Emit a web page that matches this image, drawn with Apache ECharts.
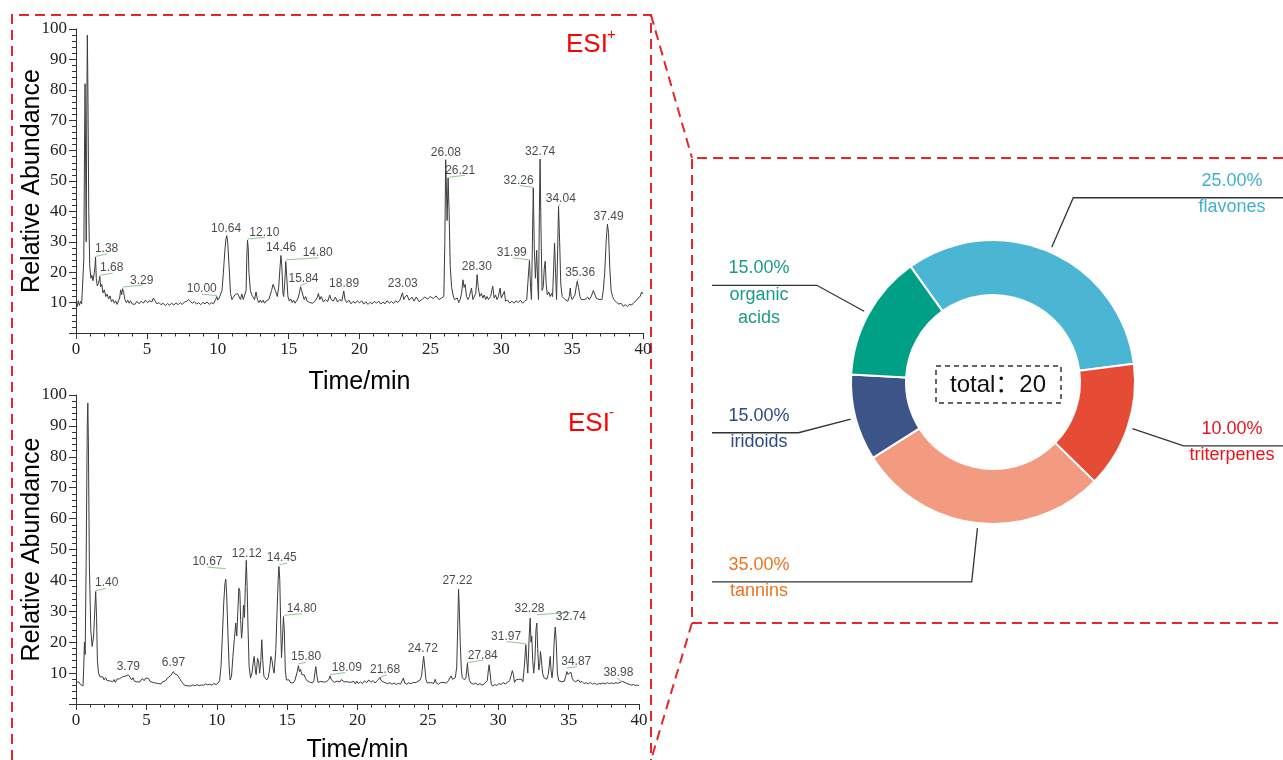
<!DOCTYPE html>
<html>
<head>
<meta charset="utf-8">
<script src="https://cdn.jsdelivr.net/npm/echarts@6/dist/echarts.min.js"></script>
<style>
  html, body { margin: 0; padding: 0; background: #fff; }
  #chart { width: 1283px; height: 760px; }
</style>
</head>
<body>
<div id="chart"></div>
<script>
// ESI+ total ion chromatogram, [time(min), relative abundance]
const esiPos = [
  [0,10],[0.08,8.6],[0.16,10.6],[0.24,9.1],[0.32,10.4],[0.4,9.6],[0.48,10.2],[0.55,24],[0.6,60],[0.64,82],
  [0.68,55],[0.72,30],[0.76,72],[0.8,98],[0.84,80],[0.9,40],[0.97,22],[1.05,18],[1.12,19],[1.2,17.2],
  [1.28,19.5],[1.34,22],[1.38,25],[1.43,18],[1.5,15.5],[1.58,16.2],[1.64,17.5],[1.68,18.6],[1.74,15.2],[1.82,16],
  [1.9,13.2],[2.0,14.2],[2.1,12],[2.2,12.8],[2.3,11.2],[2.4,12.2],[2.5,10.3],[2.6,11],[2.7,9.8],[2.8,10.6],
  [2.9,9.4],[3.0,10.6],[3.08,11.5],[3.15,14.2],[3.22,12.6],[3.29,14.6],[3.36,13.4],[3.45,11],[3.55,10],[3.65,10.8],
  [3.75,9.8],[3.85,10.6],[3.95,9.6],[4.05,10.2],[4.15,9.4],[4.3,10.4],[4.45,9.6],[4.6,10.5],[4.75,9.8],[4.9,10.8],
  [5.05,10],[5.2,10.6],[5.35,10.2],[5.46,11.5],[5.55,10.8],[5.7,9.6],[5.85,10],[6.0,9.3],[6.15,9.8],[6.3,9],
  [6.45,9.7],[6.6,9.1],[6.75,9.8],[6.9,9.2],[7.05,9.9],[7.2,9.3],[7.35,10],[7.5,9.4],[7.65,10.2],[7.8,10.4],
  [7.95,11],[8.05,10.6],[8.2,9.8],[8.35,10.3],[8.5,9.5],[8.65,10],[8.8,9.3],[8.95,10.1],[9.1,9.6],[9.25,10.2],
  [9.4,9.4],[9.55,10],[9.7,9.6],[9.85,11],[9.93,12],[10.0,10.8],[10.1,11.5],[10.2,12],[10.3,14],[10.4,20],
  [10.5,27],[10.58,31],[10.64,32],[10.7,30],[10.8,22],[10.9,13],[11.0,11],[11.1,11.5],[11.2,12.5],[11.3,12],
  [11.4,13],[11.5,12.5],[11.6,11],[11.7,12.8],[11.8,11],[11.9,11.5],[12.0,14],[12.05,25],[12.1,30.5],[12.15,28],
  [12.2,20],[12.3,14],[12.4,12.5],[12.5,12],[12.6,11],[12.7,13.5],[12.8,11],[12.9,10],[13.0,10.8],[13.1,10],
  [13.2,10.8],[13.3,9.8],[13.4,10.5],[13.5,10.2],[13.6,11],[13.7,11.5],[13.8,14],[13.9,16],[14.0,15.5],[14.1,13.5],
  [14.2,12],[14.3,15],[14.4,22],[14.46,25.5],[14.52,22],[14.6,13],[14.65,12],[14.72,16],[14.8,23.5],[14.86,19],
  [14.95,12],[15.05,10.5],[15.15,11.2],[15.25,10],[15.35,10.8],[15.45,9.8],[15.55,10.5],[15.65,11.2],[15.75,13],[15.84,15.2],
  [15.92,14],[16.0,12.5],[16.1,11],[16.2,12],[16.3,10.5],[16.4,11],[16.5,10],[16.6,10.5],[16.7,9.8],[16.85,10.5],
  [17.0,11.5],[17.1,13],[17.2,11],[17.3,12],[17.45,10.2],[17.6,11],[17.75,10.3],[17.9,12.5],[18.0,11],[18.15,10.5],
  [18.3,11.8],[18.45,10.2],[18.6,11],[18.75,10.5],[18.89,13.8],[18.98,11],[19.1,10],[19.25,10.8],[19.4,9.6],[19.55,10.4],
  [19.7,9.8],[19.85,10.6],[20.0,9.9],[20.15,10.6],[20.3,9.5],[20.45,10.3],[20.6,9.4],[20.75,10.1],[20.9,9.6],[21.05,10.4],
  [21.2,9.8],[21.35,10.5],[21.5,9.5],[21.65,10.2],[21.8,9.6],[21.95,10.6],[22.1,9.8],[22.25,10.4],[22.4,9.7],[22.55,10.6],
  [22.7,10],[22.85,10.8],[22.95,10.3],[23.03,13.2],[23.12,11],[23.2,11.8],[23.35,12.5],[23.5,10.8],[23.7,11.8],[23.85,10.5],
  [24.0,11.8],[24.2,10.3],[24.4,11],[24.6,11.8],[24.8,11.2],[25.0,12],[25.2,11.3],[25.4,12.2],[25.6,11],[25.8,11.5],
  [25.95,12],[26.02,30],[26.08,57],[26.13,48],[26.18,37],[26.25,51],[26.32,40],[26.4,22],[26.5,15],[26.6,12.5],
  [26.7,11],[26.8,10.5],[26.9,11.5],[27.0,10],[27.1,11],[27.2,13],[27.3,17.5],[27.38,15],[27.45,16],[27.55,12],
  [27.65,11],[27.75,12],[27.9,14.8],[28.0,11],[28.1,10.5],[28.2,13],[28.3,19.2],[28.38,15],[28.48,12],[28.6,13],
  [28.7,11.5],[28.8,12.5],[28.9,11],[29.0,12],[29.1,11],[29.25,12],[29.4,15.4],[29.5,11.5],[29.6,12.5],[29.7,11],
  [29.8,12],[29.92,14.8],[30.0,11.5],[30.1,12],[30.22,13.7],[30.3,10.5],[30.45,10.8],[30.6,9.8],[30.75,10.5],[30.9,9.8],
  [31.05,10.6],[31.2,10],[31.35,10.8],[31.5,9.8],[31.65,10.5],[31.8,11],[31.9,18],[31.99,23.9],[32.07,15],[32.13,11],
  [32.2,30],[32.26,47.7],[32.33,28],[32.41,18],[32.5,27.2],[32.57,16],[32.63,11],[32.69,40],[32.74,57.2],[32.8,35],
  [32.88,14],[32.96,15],[33.03,21],[33.1,23.6],[33.17,16],[33.25,12.5],[33.35,13.5],[33.45,12],[33.55,13],[33.62,12],
  [33.7,22],[33.76,29.6],[33.83,20],[33.9,11],[33.97,25],[34.04,41.7],[34.12,30],[34.2,16],[34.3,12],[34.4,12.5],
  [34.5,11],[34.6,11.5],[34.7,10.5],[34.8,12],[34.87,14.8],[34.93,12],[35.0,11],[35.1,11.5],[35.2,12.5],[35.3,15.5],
  [35.36,17],[35.45,15],[35.55,12],[35.65,11],[35.75,10.5],[35.9,11],[36.0,10.5],[36.1,11.8],[36.2,11],[36.35,12],
  [36.5,14],[36.6,13.5],[36.7,11.5],[36.8,12],[36.9,11],[37.0,11.5],[37.1,11],[37.2,14],[37.3,20],[37.4,30],
  [37.49,35.8],[37.57,33],[37.65,22],[37.75,14],[37.85,12],[37.95,11],[38.05,11.5],[38.15,10],[38.3,9.5],[38.45,9.8],
  [38.6,8.8],[38.75,9.3],[38.9,8.7],[39.05,9.5],[39.2,9.2],[39.35,10],[39.5,10.5],[39.65,11.5],[39.8,12],[39.9,13.5],[40,12.8]
];

// ESI- total ion chromatogram
const esiNeg = [
  [0,7],[0.1,6.5],[0.2,7.2],[0.3,6.4],[0.4,6.8],[0.5,5.8],[0.55,12],[0.6,20],[0.65,16],[0.72,45],
  [0.8,90],[0.84,97.4],[0.88,85],[0.95,45],[1.05,24],[1.15,18.6],[1.25,22],[1.33,30],[1.4,36.4],[1.46,28],
  [1.52,14],[1.6,10],[1.7,8.8],[1.8,8.3],[1.9,8.8],[2.0,7.8],[2.1,8.5],[2.2,7.6],[2.3,8.2],[2.4,7.5],
  [2.5,8],[2.6,7.2],[2.7,7.9],[2.8,7],[2.9,8],[3.0,7.4],[3.1,8.2],[3.2,7.6],[3.3,8.8],[3.4,8.2],
  [3.5,9],[3.6,8.4],[3.72,9.4],[3.85,8.6],[3.95,7.8],[4.05,8.5],[4.15,7.4],[4.25,7.9],[4.35,7.1],[4.45,7.7],
  [4.55,7.2],[4.7,8.2],[4.85,7.6],[4.95,8.4],[5.05,7.8],[5.15,8.3],[5.25,7.4],[5.35,7.9],[5.45,7],[5.55,7.6],
  [5.65,6.8],[5.75,7.3],[5.85,6.6],[5.95,7.1],[6.05,6.5],[6.15,7.2],[6.25,6.6],[6.35,7.5],[6.45,7.8],[6.55,8.6],
  [6.65,8],[6.75,9.3],[6.85,9.8],[6.92,10.5],[7.0,9.8],[7.1,10.1],[7.2,9.4],[7.3,8.8],[7.4,8],[7.5,7.2],
  [7.6,6.6],[7.7,6.1],[7.8,6.3],[7.9,5.9],[8.0,6.2],[8.15,5.8],[8.3,6.2],[8.45,5.9],[8.6,6.3],[8.75,5.9],
  [8.9,6.2],[9.05,6],[9.2,6.5],[9.35,6.2],[9.5,6.4],[9.65,6.1],[9.8,6.6],[9.95,6.3],[10.1,6.8],[10.2,7.5],
  [10.3,12],[10.4,22],[10.5,33],[10.58,39],[10.64,40.4],[10.7,36],[10.8,22],[10.88,12],[10.95,7.8],[11.05,9],
  [11.15,15.4],[11.25,21],[11.35,26.2],[11.42,22],[11.5,30],[11.57,37.5],[11.64,36.5],[11.7,27],[11.76,21.3],[11.82,24],
  [11.9,32],[11.97,28],[12.03,38],[12.1,46.5],[12.16,38],[12.22,25],[12.3,12.2],[12.4,8.5],[12.5,10],[12.58,13],
  [12.66,15.4],[12.74,11],[12.8,9.5],[12.9,14.8],[12.98,13.5],[13.05,10],[13.13,14],[13.2,20.8],[13.27,14],[13.35,9],
  [13.45,8.5],[13.55,7.8],[13.65,8.5],[13.75,11],[13.85,15.4],[13.93,14],[14.0,11.5],[14.08,10],[14.2,18],[14.3,32],
  [14.38,42],[14.42,44.5],[14.48,40],[14.55,24],[14.6,15],[14.66,20],[14.74,28.3],[14.8,24],[14.87,11],[14.95,7.8],
  [15.05,7.2],[15.15,7.8],[15.25,6.8],[15.35,7.4],[15.45,6.9],[15.55,7.6],[15.65,8.2],[15.72,10.5],[15.8,12.4],[15.88,10.5],
  [15.95,11.2],[16.05,9.5],[16.15,9.8],[16.22,9.4],[16.3,8.4],[16.4,7.6],[16.5,7.9],[16.6,7.1],[16.7,7.4],[16.8,6.8],
  [16.9,7.5],[16.97,10],[17.04,12.1],[17.12,9],[17.2,7],[17.3,6.8],[17.4,7.3],[17.5,6.7],[17.6,7.1],[17.7,6.6],
  [17.8,7.2],[17.9,6.8],[17.97,8],[18.05,9.1],[18.15,7.8],[18.25,7.2],[18.35,7],[18.45,6.8],[18.55,7.4],[18.65,6.9],
  [18.75,7.1],[18.85,7.9],[18.95,8.3],[19.05,7.2],[19.15,6.8],[19.25,7.2],[19.35,6.6],[19.5,7],[19.6,6.4],[19.75,7.3],
  [19.85,6.5],[19.95,7.4],[20.05,6.6],[20.2,7.2],[20.35,6.6],[20.5,7.5],[20.65,6.9],[20.8,7.8],[20.95,7],[21.1,7.6],
  [21.25,6.8],[21.4,7.5],[21.5,7],[21.6,8.6],[21.68,7.6],[21.8,8.2],[21.9,7],[22.0,7.6],[22.15,6.6],[22.3,6.9],
  [22.45,6.4],[22.6,6.8],[22.75,6.3],[22.9,6.7],[23.05,6.4],[23.15,7],[23.26,8.4],[23.35,6.8],[23.5,6.4],[23.65,6.9],
  [23.8,6.5],[23.95,7],[24.05,7.6],[24.15,6.9],[24.3,7.4],[24.45,7.8],[24.55,9],[24.64,13],[24.7,15.4],[24.78,12],
  [24.86,8],[24.95,6.8],[25.05,6.5],[25.2,6.9],[25.3,6.4],[25.42,6.7],[25.52,8],[25.6,6.8],[25.75,6.4],[25.9,6.9],
  [26.0,6.5],[26.15,7],[26.3,6.7],[26.45,7.5],[26.58,8],[26.65,9.1],[26.75,8],[26.85,7.5],[26.95,8.5],[27.05,12],
  [27.12,25],[27.18,37.2],[27.24,30],[27.3,19.7],[27.38,11],[27.45,8.5],[27.53,8.4],[27.6,7.8],[27.7,8.5],[27.76,11],
  [27.81,13.2],[27.87,10],[27.95,7.6],[28.05,6.8],[28.15,7.2],[28.25,6.4],[28.4,6.8],[28.55,6.2],[28.7,6.6],[28.85,6.1],
  [29.0,6.5],[29.12,6.2],[29.22,7.5],[29.3,11],[29.35,12.7],[29.42,10],[29.5,6.5],[29.6,5.8],[29.75,6.3],[29.9,6],
  [30.05,6.6],[30.2,6.3],[30.35,6.9],[30.5,6.5],[30.65,7],[30.8,7.5],[30.9,9],[31.0,10.8],[31.08,9.5],[31.15,7],
  [31.25,7.8],[31.35,7.2],[31.45,8],[31.55,7.5],[31.65,8],[31.75,7.2],[31.85,12],[31.96,19.2],[32.03,14],[32.1,10],
  [32.2,22],[32.27,27.8],[32.33,20],[32.38,22],[32.45,14],[32.52,10],[32.6,14],[32.68,24],[32.74,26.2],[32.8,18],
  [32.88,11],[32.95,13],[33.0,17],[33.07,14],[33.15,10],[33.25,8.5],[33.35,9],[33.45,8],[33.55,9.5],[33.62,12],
  [33.69,15.4],[33.75,11],[33.82,8.5],[33.9,12],[33.98,21],[34.05,24.9],[34.12,20],[34.2,10],[34.3,7.5],[34.4,7.8],
  [34.5,7.2],[34.6,7.6],[34.7,7.4],[34.8,9],[34.87,10.5],[34.95,9.6],[35.05,10.2],[35.16,10.3],[35.25,8.4],[35.35,7.6],
  [35.5,7.2],[35.6,7.5],[35.7,7.8],[35.8,7],[35.95,7.3],[36.1,6.6],[36.25,6.9],[36.4,6.5],[36.55,7],[36.7,6.4],
  [36.85,6.8],[37.0,6.3],[37.15,6.6],[37.3,6.5],[37.45,6.8],[37.6,6.5],[37.75,6.9],[37.9,6.6],[38.05,6.8],[38.2,6.6],
  [38.35,6.9],[38.5,6.7],[38.65,7],[38.8,7.3],[38.9,7.2],[39.0,7],[39.15,6.6],[39.3,6.4],[39.45,6.1],[39.6,6.3],
  [39.75,6],[39.9,6.1],[40,6]
];

// peak labels: [time, abundance, text]
const posPeaks = [
  [2.16,27.6,'1.38'],[2.52,21.4,'1.68'],[4.64,17.3,'3.29'],[8.87,14.5,'10.00'],[10.59,34.3,'10.64'],
  [13.29,33.1,'12.10'],[14.47,28.2,'14.46'],[17.05,26.5,'14.80'],[16.05,17.8,'15.84'],[18.91,16.2,'18.89'],
  [23.05,16.1,'23.03'],[26.09,59.4,'26.08'],[27.1,53.4,'26.21'],[28.28,21.9,'28.30'],[30.74,26.5,'31.99'],
  [31.22,50.1,'32.26'],[32.74,59.8,'32.74'],[34.2,44.2,'34.04'],[35.57,19.7,'35.36'],[37.57,38.4,'37.49']
];
const negPeaks = [
  [2.18,39.1,'1.40'],[3.72,12.1,'3.79'],[6.92,13.4,'6.97'],[9.34,45.9,'10.67'],[12.13,48.8,'12.12'],
  [14.62,47.2,'14.45'],[16.04,30.9,'14.80'],[16.35,15.4,'15.80'],[19.24,11.9,'18.09'],[21.96,11.1,'21.68'],
  [24.64,17.9,'24.72'],[27.1,39.9,'27.22'],[28.9,15.7,'27.84'],[30.56,21.9,'31.97'],[32.22,30.8,'32.28'],
  [35.16,28.3,'32.74'],[35.54,13.8,'34.87'],[38.54,10.2,'38.98']
];

// green leader segments: [t1, v1, t2, v2]
const posLeaders = [
  [1.39,25.2,2.21,26],[1.69,19,2.59,19.7],[3.29,15.1,4.71,15.8],[8.87,12.8,9.93,12.3],[12.09,30.9,13.34,31.5],
  [14.82,24.1,17.1,24.7],[15.81,15.6,16.28,16.4],[26.28,51.2,27.45,51.9],[30.82,24.7,32.0,24.1],[31.29,48.5,32.28,47.9],
  [34.04,41.7,34.16,42.5],[35.33,17,35.45,17.8]
];
const negLeaders = [
  [1.4,36.7,2.13,37.4],[9.34,44.3,10.64,43.8],[14.45,45.1,15.02,45.6],[14.79,28.7,16.04,29.2],[15.8,13,16.35,13.5],
  [18.05,9.5,19.12,10.2],[21.6,8.7,22.08,9.4],[27.81,13.4,28.95,14.2],[30.6,20.2,31.96,19.5],[32.74,28.9,35.1,29.6],
  [34.87,11.6,35.58,12.1],[38.41,8.4,38.77,7.3]
];

// compound classes (slice sizes as drawn, label text as printed)
const classNames = ['flavones', 'triterpenes', 'tannins', 'iridoids', 'organic\nacids'];
const classShares = [32.8, 14.4, 28.7, 9.8, 14.3];
const classLabels = ['25.00%', '10.00%', '35.00%', '15.00%', '15.00%'];
const classColors = ['#4BB6D4', '#E64B35', '#F29B80', '#3C5488', '#00A087'];
const classTextColors = ['#3FB0D0', '#E8141C', '#EC7420', '#2C4A87', '#1B9A88'];

const chart = echarts.init(document.getElementById('chart'))

const red = '#E8262A'
const dash = [10, 6]

function xAxisOf(gridIndex, gap) {
  return {
    type: 'value', gridIndex: gridIndex, min: 0, max: 40, interval: 5,
    name: 'Time/min', nameLocation: 'middle', nameGap: gap, nameMoveOverlap: false,
    nameTextStyle: { fontSize: 25, fontFamily: 'Liberation Sans', color: '#000' },
    axisLine: { show: true, onZero: false, lineStyle: { color: '#333', width: 1 } },
    axisTick: { show: true, length: 6, lineStyle: { color: '#333' } },
    minorTick: { show: true, splitNumber: 5, length: 3.5, lineStyle: { color: '#333' } },
    axisLabel: { fontFamily: 'Liberation Serif', fontSize: 17, color: '#222', margin: 8 },
    splitLine: { show: false }
  }
}

function yAxisOf(gridIndex) {
  return {
    type: 'value', gridIndex: gridIndex, min: 0, max: 100, interval: 10,
    name: 'Relative Abundance', nameLocation: 'middle', nameGap: 31, nameMoveOverlap: false,
    nameTextStyle: { fontSize: 25, fontFamily: 'Liberation Sans', color: '#000' },
    axisLine: { show: true, onZero: false, lineStyle: { color: '#333', width: 1 } },
    axisTick: { show: true, length: 7, lineStyle: { color: '#333' } },
    minorTick: { show: true, splitNumber: 5, length: 4, lineStyle: { color: '#333' } },
    axisLabel: {
      fontFamily: 'Liberation Serif', fontSize: 17, color: '#222', margin: 9,
      formatter: function (v) { return v === 0 ? '' : v }
    },
    splitLine: { show: false }
  }
}

function traceSeries(data, idx) {
  return {
    type: 'line', xAxisIndex: idx, yAxisIndex: idx, data: data,
    symbol: 'none', smooth: false,
    lineStyle: { color: '#3c3c3c', width: 1 }
  }
}

function peakSeries(peaks, idx) {
  return {
    type: 'scatter', xAxisIndex: idx, yAxisIndex: idx,
    data: peaks, symbolSize: 1, itemStyle: { color: 'transparent' },
    label: {
      show: true, position: 'inside', fontSize: 12, fontFamily: 'Liberation Sans', color: '#1a1a1a',
      formatter: function (p) { return p.value[2] }
    },
    z: 5
  }
}

function leaderSeries(segs, idx) {
  return {
    type: 'lines', coordinateSystem: 'cartesian2d', xAxisIndex: idx, yAxisIndex: idx,
    data: segs.map(function (s) { return { coords: [[s[0], s[1]], [s[2], s[3]]] } }),
    lineStyle: { color: '#8CCB8C', width: 1, opacity: 1 },
    z: 4
  }
}

const option = {
  backgroundColor: '#fff',
  animation: false,
  grid: [
    { left: 76, top: 29, width: 567, height: 304, outerBoundsMode: 'none', containLabel: false },
    { left: 76, top: 395, width: 563, height: 309, outerBoundsMode: 'none', containLabel: false }
  ],
  xAxis: [xAxisOf(0, 37), xAxisOf(1, 34)],
  yAxis: [yAxisOf(0), yAxisOf(1)],
  series: [
    traceSeries(esiPos, 0),
    traceSeries(esiNeg, 1),
    leaderSeries(posLeaders, 0),
    leaderSeries(negLeaders, 1),
    peakSeries(posPeaks, 0),
    peakSeries(negPeaks, 1),
    {
      type: 'pie',
      center: [993, 382],
      radius: [87, 142],
      startAngle: 125.5,
      avoidLabelOverlap: false,
      itemStyle: { borderColor: '#fff', borderWidth: 2 },
      label: {
        show: true, position: 'outside', fontFamily: 'Liberation Sans',
        formatter: function (p) {
          return '{p|' + classLabels[p.dataIndex] + '}\n{n|' + classNames[p.dataIndex] + '}'
        },
        rich: {
          p: { fontSize: 18, lineHeight: 30, fontFamily: 'Liberation Sans', align: 'center' },
          n: { fontSize: 18, lineHeight: 23, fontFamily: 'Liberation Sans', align: 'center' }
        }
      },
      labelLine: { show: true, length: 59, length2: 10, lineStyle: { color: '#333', width: 1.3 } },
      labelLayout: function (params) {
        const pts = params.labelLinePoints
        if (!pts) return {}
        const isLeft = pts[2][0] < pts[1][0]
        const dx = pts[1][0] - pts[0][0]
        const dy = pts[1][1] - pts[0][1]
        const len = Math.sqrt(dx * dx + dy * dy)
        const start = [pts[0][0] + dx / len * 5, pts[0][1] + dy / len * 5]
        const y = pts[1][1]
        return {
          x: isLeft ? 759 : 1232,
          y: y - 32,
          align: 'center',
          verticalAlign: 'top',
          labelLinePoints: [start, pts[1], [isLeft ? 712 : 1283, y]]
        }
      },
      emphasis: { disabled: true },
      data: classNames.map(function (n, i) {
        return {
          name: n, value: classShares[i],
          itemStyle: { color: classColors[i] },
          label: { color: classTextColors[i] }
        }
      })
    }
  ],
  graphic: [
    // red dashed frames
    { type: 'polyline', shape: { points: [[12, 760], [12, 15], [651, 15], [651, 760]] },
      style: { stroke: red, lineWidth: 2, lineDash: dash, fill: null } },
    { type: 'line', shape: { x1: 651, y1: 15, x2: 692, y2: 158 }, style: { stroke: red, lineWidth: 2, lineDash: dash } },
    { type: 'line', shape: { x1: 692, y1: 623, x2: 651, y2: 760 }, style: { stroke: red, lineWidth: 2, lineDash: dash } },
    { type: 'polyline', shape: { points: [[1283, 158], [692, 158], [692, 623], [1283, 623]] },
      style: { stroke: red, lineWidth: 2, lineDash: dash, fill: null } },
    // ion mode tags
    { type: 'text', x: 566, y: 45, style: { text: 'ESI', fill: '#FF0000', fontSize: 26, fontFamily: 'Liberation Sans', verticalAlign: 'middle' } },
    { type: 'text', x: 607, y: 35, style: { text: '+', fill: '#FF0000', fontSize: 15, fontFamily: 'Liberation Sans', verticalAlign: 'middle' } },
    { type: 'text', x: 568, y: 424, style: { text: 'ESI', fill: '#FF0000', fontSize: 26, fontFamily: 'Liberation Sans', verticalAlign: 'middle' } },
    { type: 'text', x: 609, y: 413, style: { text: '-', fill: '#FF0000', fontSize: 15, fontFamily: 'Liberation Sans', verticalAlign: 'middle' } },
    // centre total box
    { type: 'rect', shape: { x: 936, y: 366, width: 125, height: 37 },
      style: { stroke: '#333', lineWidth: 1.5, lineDash: [5, 4], fill: null } },
    { type: 'text', x: 998, y: 385, style: { text: 'total：20', fill: '#111', fontSize: 24,
      fontFamily: 'Liberation Sans, Noto Sans CJK SC', align: 'center', verticalAlign: 'middle' } }
  ]
}

chart.setOption(option)
</script>
</body>
</html>
